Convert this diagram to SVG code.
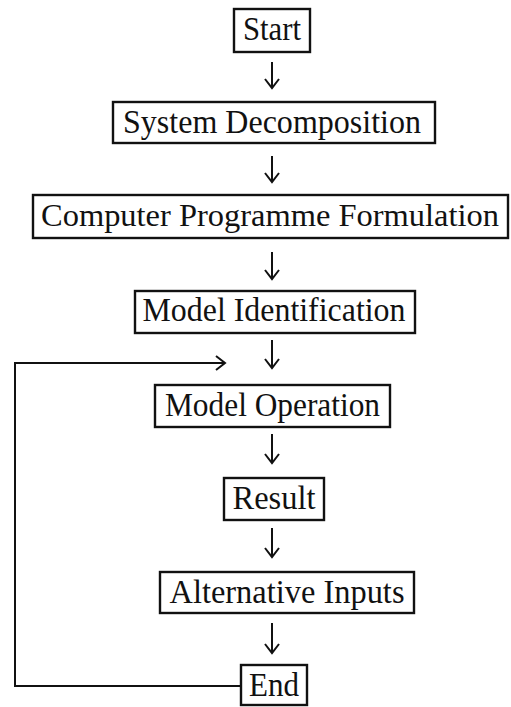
<svg xmlns="http://www.w3.org/2000/svg" width="511" height="707" viewBox="0 0 511 707">
<style>
.box{fill:#fff;stroke:#111;stroke-width:2.4}
.lbl{font-family:"Liberation Serif","Times New Roman",serif;font-size:34px;fill:#111;text-anchor:middle}
.con{fill:none;stroke:#111;stroke-width:2}
</style>
<defs>
<marker id="ah" markerUnits="userSpaceOnUse" markerWidth="20" markerHeight="20" refX="0" refY="0" viewBox="-12 -10 14 20" orient="auto" overflow="visible">
<path d="M-9,-7 L0,0 L-9,7" fill="none" stroke="#111" stroke-width="2"/>
</marker>
</defs>
<rect width="511" height="707" fill="#fff"/>
<g id="connectors">
<line class="con" x1="272" y1="62" x2="272" y2="88" marker-end="url(#ah)"/>
<line class="con" x1="272" y1="156" x2="272" y2="182" marker-end="url(#ah)"/>
<line class="con" x1="272" y1="252" x2="272" y2="279" marker-end="url(#ah)"/>
<line class="con" x1="272" y1="340" x2="272" y2="368" marker-end="url(#ah)"/>
<line class="con" x1="272" y1="434" x2="272" y2="463" marker-end="url(#ah)"/>
<line class="con" x1="272" y1="528" x2="272" y2="557" marker-end="url(#ah)"/>
<line class="con" x1="272" y1="623" x2="272" y2="653" marker-end="url(#ah)"/>
<polyline class="con" points="241,686 15,686 15,363 225,363" marker-end="url(#ah)"/>
</g>
<g id="start"><rect class="box" x="234" y="9" width="76" height="43"/><text class="lbl" x="272" y="40" textLength="58" lengthAdjust="spacingAndGlyphs">Start</text></g>
<g id="decomp"><rect class="box" x="113" y="102" width="322" height="41"/><text class="lbl" x="272" y="133" textLength="298" lengthAdjust="spacingAndGlyphs">System Decomposition</text></g>
<g id="programme"><rect class="box" x="33" y="195" width="475" height="43"/><text class="lbl" x="270" y="226" style="font-size:32px" textLength="458" lengthAdjust="spacingAndGlyphs">Computer Programme Formulation</text></g>
<g id="identification"><rect class="box" x="135" y="291" width="280" height="42"/><text class="lbl" x="274" y="321" textLength="263" lengthAdjust="spacingAndGlyphs">Model Identification</text></g>
<g id="operation"><rect class="box" x="155" y="385" width="235" height="42"/><text class="lbl" x="272.5" y="416" textLength="215" lengthAdjust="spacingAndGlyphs">Model Operation</text></g>
<g id="result"><rect class="box" x="224" y="478" width="100" height="42"/><text class="lbl" x="274" y="509" textLength="83" lengthAdjust="spacingAndGlyphs">Result</text></g>
<g id="alternative"><rect class="box" x="160" y="572" width="254" height="41"/><text class="lbl" x="287" y="603" textLength="235" lengthAdjust="spacingAndGlyphs">Alternative Inputs</text></g>
<g id="end"><rect class="box" x="241" y="665" width="66" height="40"/><text class="lbl" x="274" y="696" textLength="50" lengthAdjust="spacingAndGlyphs">End</text></g>
</svg>
